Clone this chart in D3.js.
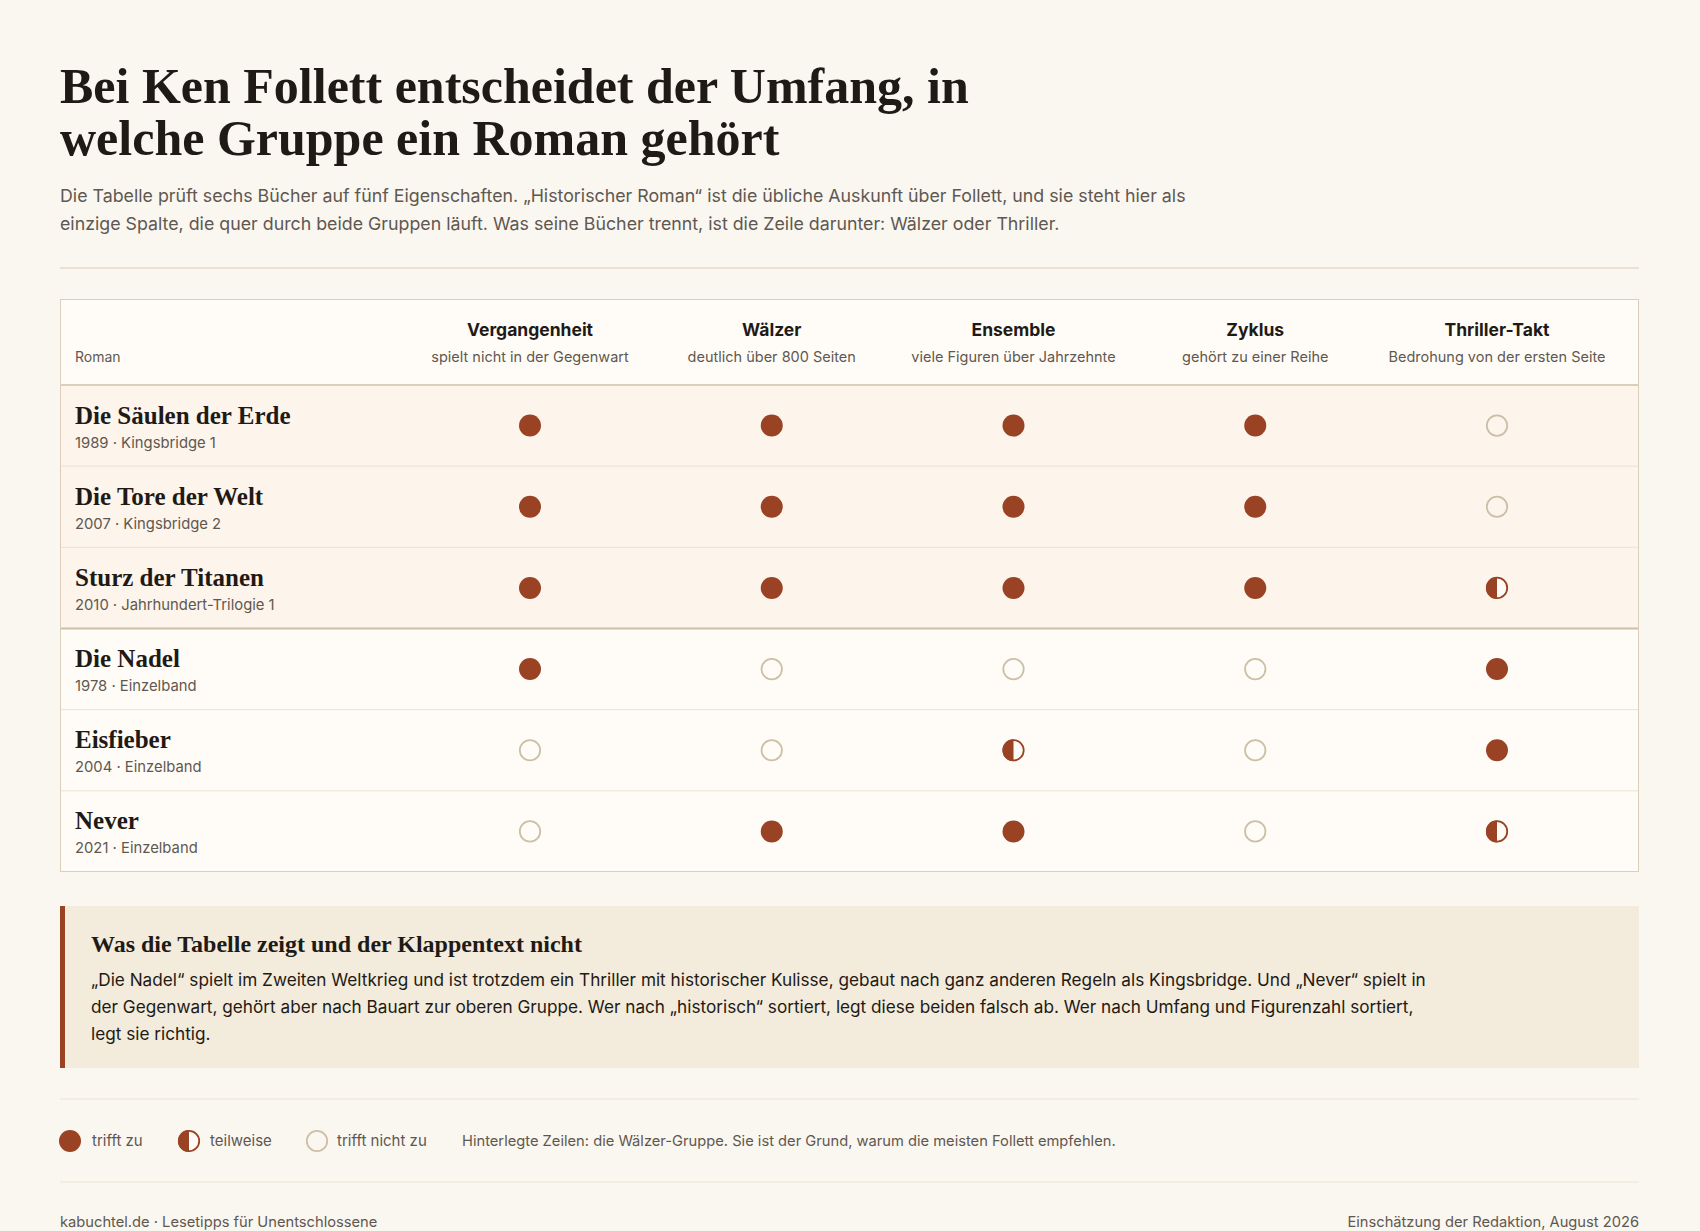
<!DOCTYPE html>
<html><head><meta charset="utf-8">
<script src="https://cdn.jsdelivr.net/npm/d3@7"></script>
<style>body{margin:0;background:#faf6f0}svg{display:block}</style>
</head><body><svg id="c" width="1700" height="1231"></svg>
<script>
const books = ["Die Säulen der Erde","Die Tore der Welt","Sturz der Titanen","Die Nadel","Eisfieber","Never"];
const bookMeta = ["1989 · Kingsbridge 1","2007 · Kingsbridge 2","2010 · Jahrhundert-Trilogie 1","1978 · Einzelband","2004 · Einzelband","2021 · Einzelband"];
const highlighted = [true,true,true,false,false,false];
const columns = ["Vergangenheit","Wälzer","Ensemble","Zyklus","Thriller-Takt"];
const columnSubs = ["spielt nicht in der Gegenwart","deutlich über 800 Seiten","viele Figuren über Jahrzehnte","gehört zu einer Reihe","Bedrohung von der ersten Seite"];
// 2 = trifft zu, 1 = teilweise, 0 = trifft nicht zu
const values = [
 [2,2,2,2,0],
 [2,2,2,2,0],
 [2,2,2,2,1],
 [2,0,0,0,2],
 [0,0,1,0,2],
 [0,2,2,0,1]
];
const legendLabels = ["trifft zu","teilweise","trifft nicht zu"];

const svg = d3.select("#c");
const W=1700, L=60, R=1639;
const red="#9a4324", empty="#cdbfa6", ink="#1f1a15", grey="#5f5850", sans="Inter, 'Noto Sans', sans-serif", serif="'Liberation Serif', serif";
svg.append("rect").attr("width",W).attr("height",1231).attr("fill","#faf6f0");

svg.append("text").attr("x",L).attr("y",103).attr("font-family",serif).attr("font-weight",700).attr("font-size",50).attr("fill",ink).text("Bei Ken Follett entscheidet der Umfang, in");
svg.append("text").attr("x",L).attr("y",155).attr("font-family",serif).attr("font-weight",700).attr("font-size",50).attr("fill",ink).text("welche Gruppe ein Roman gehört");
["Die Tabelle prüft sechs Bücher auf fünf Eigenschaften. „Historischer Roman“ ist die übliche Auskunft über Follett, und sie steht hier als",
 "einzige Spalte, die quer durch beide Gruppen läuft. Was seine Bücher trennt, ist die Zeile darunter: Wälzer oder Thriller."].forEach((t,i)=>
 svg.append("text").attr("x",L).attr("y",202+i*28).attr("font-family",sans).attr("font-size",17.8).attr("fill",grey).text(t));
svg.append("line").attr("x1",L).attr("x2",R).attr("y1",268).attr("y2",268).attr("stroke","#d9ccb6");

const tTop=299, hBot=385, tBot=872;
const x = d3.scalePoint().domain(columns).range([530,1497]);
const y = d3.scaleBand().domain(books).range([hBot,tBot]);
svg.append("rect").attr("x",L+0.5).attr("y",tTop+0.5).attr("width",R-L-1).attr("height",tBot-tTop-1).attr("fill","#fffcf7").attr("stroke","#dccfb9");
books.forEach((b,i)=>{
  if(highlighted[i]) svg.append("rect").attr("x",L+1).attr("y",y(b)).attr("width",R-L-2).attr("height",y.bandwidth()).attr("fill","#fdf4ec");
  if(i>0) svg.append("line").attr("x1",L+1).attr("x2",R-1).attr("y1",y(b)).attr("y2",y(b))
     .attr("stroke", i===3?"#cdbfa6":"#ebe1d2").attr("stroke-width", i===3?2:1);
});
svg.append("line").attr("x1",L+1).attr("x2",R-1).attr("y1",hBot).attr("y2",hBot).attr("stroke","#dccfb9").attr("stroke-width",2);
svg.append("text").attr("x",75).attr("y",362).attr("font-family",sans).attr("font-size",14).attr("fill",grey).text("Roman");
columns.forEach((c,j)=>{
  svg.append("text").attr("x",x(c)).attr("y",336).attr("text-anchor","middle").attr("font-family",sans).attr("font-weight",700).attr("font-size",17.5).attr("fill",ink).text(c);
  svg.append("text").attr("x",x(c)).attr("y",362).attr("text-anchor","middle").attr("font-family",sans).attr("font-size",14.5).attr("fill",grey).text(columnSubs[j]);
});
function mark(g,cx,cy,v,r){
  if(v===2) g.append("circle").attr("cx",cx).attr("cy",cy).attr("r",r).attr("fill",red);
  else if(v===0) g.append("circle").attr("cx",cx).attr("cy",cy).attr("r",r-0.8).attr("fill","none").attr("stroke",empty).attr("stroke-width",1.8);
  else {
    g.append("circle").attr("cx",cx).attr("cy",cy).attr("r",r-0.8).attr("fill","#fffcf7").attr("stroke",red).attr("stroke-width",1.8);
    g.append("path").attr("d",`M${cx},${cy-r}A${r},${r} 0 0 0 ${cx},${cy+r}Z`).attr("fill",red);
  }
}
books.forEach((b,i)=>{
  const cy=y(b)+y.bandwidth()/2;
  svg.append("text").attr("x",75).attr("y",cy-2).attr("font-family",serif).attr("font-weight",700).attr("font-size",25).attr("fill",ink).text(b);
  svg.append("text").attr("x",75).attr("y",cy+22).attr("font-family",sans).attr("font-size",14.8).attr("fill",grey).text(bookMeta[i]);
  columns.forEach((c,j)=>mark(svg,x(c),cy,values[i][j],11));
});

svg.append("rect").attr("x",L).attr("y",906).attr("width",R-L).attr("height",162).attr("fill","#f3ebdb");
svg.append("rect").attr("x",L).attr("y",906).attr("width",5).attr("height",162).attr("fill",red);
svg.append("text").attr("x",91).attr("y",952).attr("font-family",serif).attr("font-weight",700).attr("font-size",24).attr("fill",ink).text("Was die Tabelle zeigt und der Klappentext nicht");
["„Die Nadel“ spielt im Zweiten Weltkrieg und ist trotzdem ein Thriller mit historischer Kulisse, gebaut nach ganz anderen Regeln als Kingsbridge. Und „Never“ spielt in",
 "der Gegenwart, gehört aber nach Bauart zur oberen Gruppe. Wer nach „historisch“ sortiert, legt diese beiden falsch ab. Wer nach Umfang und Figurenzahl sortiert,",
 "legt sie richtig."].forEach((t,i)=>svg.append("text").attr("x",91).attr("y",986+i*27).attr("font-family",sans).attr("font-size",17.2).attr("fill",ink).text(t));

svg.append("line").attr("x1",L).attr("x2",R).attr("y1",1099).attr("y2",1099).attr("stroke","#ece3d4");
const lx=[70,189,317], tx=[92,210,337];
[2,1,0].forEach((v,i)=>{ mark(svg,lx[i],1141,v,11);
  svg.append("text").attr("x",tx[i]).attr("y",1146).attr("font-family",sans).attr("font-size",15).attr("fill",grey).text(legendLabels[i]); });
svg.append("text").attr("x",462).attr("y",1146).attr("font-family",sans).attr("font-size",14.7).attr("fill",grey).text("Hinterlegte Zeilen: die Wälzer-Gruppe. Sie ist der Grund, warum die meisten Follett empfehlen.");
svg.append("line").attr("x1",L).attr("x2",R).attr("y1",1182).attr("y2",1182).attr("stroke","#ece3d4");
svg.append("text").attr("x",L).attr("y",1227).attr("font-family",sans).attr("font-size",14.7).attr("fill",grey).text("kabuchtel.de · Lesetipps für Unentschlossene");
svg.append("text").attr("x",R).attr("y",1227).attr("text-anchor","end").attr("font-family",sans).attr("font-size",14.7).attr("fill",grey).text("Einschätzung der Redaktion, August 2026");
</script></body></html>
